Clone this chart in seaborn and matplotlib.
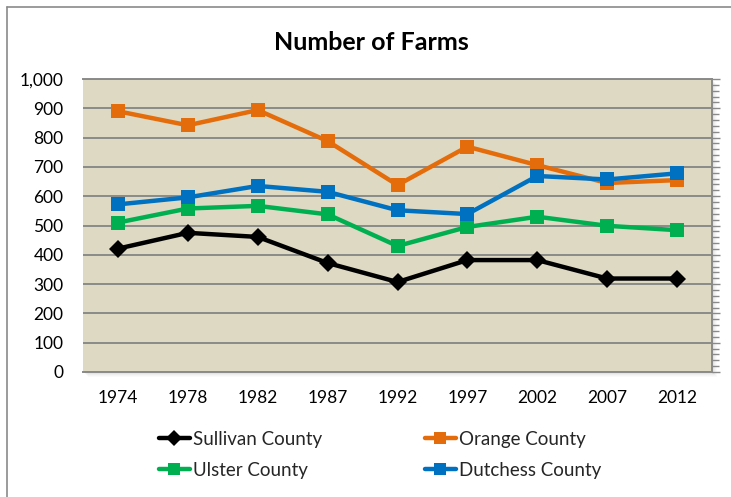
import matplotlib
matplotlib.use("Agg")
import matplotlib.pyplot as plt
from matplotlib.ticker import MultipleLocator, FixedLocator, FuncFormatter
from matplotlib.lines import Line2D
from matplotlib.patches import Rectangle
import seaborn as sns
import pandas as pd

# Census years and farm counts per county
years = ["1974", "1978", "1982", "1987", "1992", "1997", "2002", "2007", "2012"]
sullivan = [421, 475, 461, 372, 307, 382, 382, 319, 319]
orange = [890, 842, 894, 788, 638, 769, 706, 645, 655]
ulster = [510, 558, 567, 538, 430, 495, 530, 499, 484]
dutchess = [572, 596, 635, 615, 552, 539, 669, 657, 678]

counties = ["Sullivan County", "Orange County", "Ulster County", "Dutchess County"]
series = [sullivan, orange, ulster, dutchess]
colors = {"Sullivan County": "#000000", "Orange County": "#E46C0A",
          "Ulster County": "#00B050", "Dutchess County": "#0070C0"}
markers = {"Sullivan County": "D", "Orange County": "s",
           "Ulster County": "s", "Dutchess County": "s"}

rows = []
for name, vals in zip(counties, series):
    for i, (yr, v) in enumerate(zip(years, vals)):
        rows.append({"pos": i, "year": yr, "county": name, "farms": v})
df = pd.DataFrame(rows)

sns.set_style("white")
plt.rcParams["font.family"] = ["Lato", "DejaVu Sans"]

W, H = 731, 497
fig = plt.figure(figsize=(W / 100, H / 100), dpi=100)
fig.patch.set_facecolor("white")

left, right, top, bottom = 83, 712, 79, 372
ax = fig.add_axes([left / W, 1 - bottom / H, (right - left) / W, (bottom - top) / H])

# soft drop shadow behind the plot area
for k, a in zip(range(1, 6), [0.10, 0.08, 0.06, 0.04, 0.03]):
    fig.patches.append(Rectangle(((left + k) / W, 1 - (bottom + k) / H),
                                 (right - left) / W, (bottom - top) / H,
                                 transform=fig.transFigure, facecolor="#7f7f7f",
                                 alpha=a, edgecolor="none", zorder=0))

ax.set_facecolor("#DDD9C3")
ax.set_zorder(1)

sns.lineplot(data=df, x="pos", y="farms", hue="county", style="county",
             palette=colors, markers=markers, dashes=False, linewidth=3.2,
             markersize=10, markeredgewidth=0, ax=ax, legend=False, zorder=3)
# diamonds read a little smaller than squares at the same size
for line in ax.lines:
    if line.get_marker() == "D":
        line.set_markersize(9.5)

ax.set_xlim(-0.5, len(years) - 0.5)
ax.set_ylim(0, 1000)
ax.yaxis.set_major_locator(MultipleLocator(100))
ax.yaxis.set_major_formatter(FuncFormatter(lambda v, p: f"{int(v):,}"))
ax.yaxis.set_minor_locator(MultipleLocator(20))
ax.grid(axis="y", which="major", color="#8a8a8a", linewidth=1.4, zorder=1)
ax.set_axisbelow(True)

ax.xaxis.set_major_locator(FixedLocator(range(len(years))))
ax.set_xticklabels(years)
ax.xaxis.set_minor_locator(FixedLocator([i - 0.5 for i in range(len(years) + 1)]))
ax.set_xlabel("")
ax.set_ylabel("")

ax.tick_params(axis="x", which="major", length=0, pad=13, labelsize=12.5, labelcolor="#000000")
ax.tick_params(axis="x", which="minor", length=5, width=1.2, color="#8a8a8a", direction="out")
ax.tick_params(axis="y", which="both", left=False, right=True, labelleft=True,
               direction="out", color="#8a8a8a", width=1.0)
ax.tick_params(axis="y", which="major", length=6, pad=8, labelsize=12.5, labelcolor="#000000")
ax.tick_params(axis="y", which="minor", length=5)

ax.spines["left"].set_visible(False)
for s in ["top", "right", "bottom"]:
    ax.spines[s].set_color("#8a8a8a")
    ax.spines[s].set_linewidth(1.4)

fig.text(371 / W, 1 - 42 / H, "Number of Farms", ha="center", va="center",
         fontsize=18, fontweight="bold", color="#000000")

# outer chart frame (top and left edges)
fig.add_artist(Line2D([7 / W, 1], [1 - 7 / H, 1 - 7 / H], transform=fig.transFigure,
                      color="#8a8a8a", linewidth=1.2))
fig.add_artist(Line2D([7 / W, 7 / W], [0, 1 - 7 / H], transform=fig.transFigure,
                      color="#8a8a8a", linewidth=1.2))

# legend filled column by column: Sullivan/Ulster left, Orange/Dutchess right
legend_order = ["Sullivan County", "Ulster County", "Orange County", "Dutchess County"]
handles = [Line2D([], [], color=colors[c], marker=markers[c], linewidth=3.2,
                  markersize=9 if markers[c] == "s" else 8, markeredgewidth=0)
           for c in legend_order]
leg = fig.legend(handles, legend_order, loc="center", ncol=2,
                 bbox_to_anchor=(380 / W, 1 - 455 / H), frameon=False,
                 fontsize=13.5, handlelength=1.7, handletextpad=0.15,
                 columnspacing=5.45, labelspacing=0.75)

fig.savefig("out.png", dpi=100, facecolor="white")
